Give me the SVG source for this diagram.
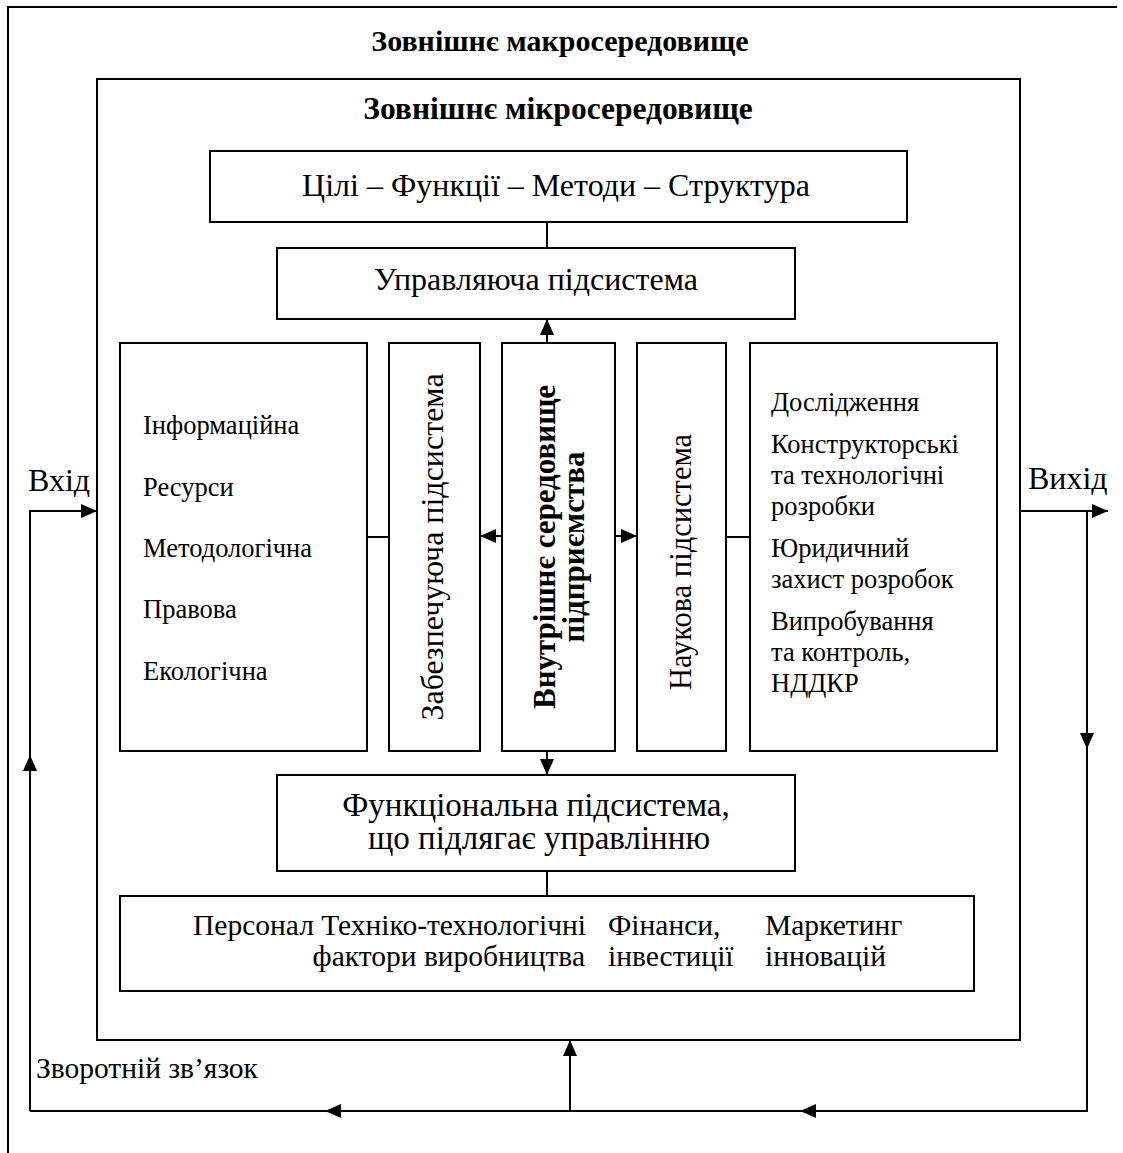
<svg xmlns="http://www.w3.org/2000/svg" width="1123" height="1153" viewBox="0 0 1123 1153">
<style>
.b{fill:none;stroke:#000;stroke-width:2}
.l{fill:none;stroke:#000;stroke-width:2}
text{font-family:"Liberation Serif","Times New Roman",serif;font-size:28px;fill:#000}
.c{text-anchor:middle}
.bold{font-weight:bold}
.big{font-size:32px}
.lst{font-size:26.5px}
.bot{font-size:29.5px}
</style>
<defs>
<marker id="ah" viewBox="0 0 16 16" refX="16" refY="8" markerWidth="16" markerHeight="16" markerUnits="userSpaceOnUse" orient="auto">
<path d="M0,1 L16,8 L0,15 Z" fill="#000"/>
</marker>
</defs>
<g id="outer">
<path class="b" d="M8,1153 V7 H1117"/>
<text class="c bold" x="560" y="51" style="font-size:30px">Зовнішнє макросередовище</text>
</g>
<g id="inner">
<rect class="b" x="97" y="79" width="923" height="961"/>
<text class="c bold" x="558" y="119" style="font-size:31.5px">Зовнішнє мікросередовище</text>
</g>
<g id="goals">
<rect class="b" x="210" y="151" width="697" height="71"/>
<text class="c big" x="556" y="196">Цілі – Функції – Методи – Структура</text>
</g>
<g id="control">
<rect class="b" x="277" y="248" width="518" height="71"/>
<text class="c big" x="536" y="290">Управляюча підсистема</text>
</g>
<g id="support-list">
<rect class="b" x="120" y="343" width="247" height="408"/>
<text class="lst" x="143" y="434">Інформаційна</text>
<text class="lst" x="143" y="496">Ресурси</text>
<text class="lst" x="143" y="557">Методологічна</text>
<text class="lst" x="143" y="618">Правова</text>
<text class="lst" x="143" y="680">Екологічна</text>
</g>
<g id="support">
<rect class="b" x="389" y="343" width="91" height="408"/>
<text class="c big" transform="translate(443,547) rotate(-90)">Забезпечуюча підсистема</text>
</g>
<g id="internal">
<rect class="b" x="502" y="343" width="113" height="408"/>
<text class="c bold" transform="translate(555,547) rotate(-90)" style="font-size:31px">Внутрішнє середовище</text>
<text class="c bold" transform="translate(584,547) rotate(-90)" style="font-size:31px">підприємства</text>
</g>
<g id="science">
<rect class="b" x="637" y="343" width="89" height="408"/>
<text class="c" transform="translate(691,562) rotate(-90)" style="font-size:30.5px">Наукова підсистема</text>
</g>
<g id="science-list">
<rect class="b" x="750" y="343" width="247" height="408"/>
<text class="lst" x="771" y="411">Дослідження</text>
<text class="lst" x="771" y="453">Конструкторські</text>
<text class="lst" x="771" y="484">та технологічні</text>
<text class="lst" x="771" y="515">розробки</text>
<text class="lst" x="771" y="557">Юридичний</text>
<text class="lst" x="771" y="588">захист розробок</text>
<text class="lst" x="771" y="630">Випробування</text>
<text class="lst" x="771" y="661">та контроль,</text>
<text class="lst" x="771" y="692">НДДКР</text>
</g>
<g id="functional">
<rect class="b" x="277" y="775" width="518" height="96"/>
<text class="c" x="536" y="816" style="font-size:33px">Функціональна підсистема,</text>
<text class="c" x="539" y="849" style="font-size:33px">що підлягає управлінню</text>
</g>
<g id="factors">
<rect class="b" x="120" y="896" width="854" height="95"/>
<text class="bot" x="193" y="935">Персонал Техніко-технологічні</text>
<text class="bot" x="585" y="966" text-anchor="end">фактори виробництва</text>
<text class="bot" x="608" y="935">Фінанси,</text>
<text class="bot" x="608" y="966">інвестиції</text>
<text class="bot" x="765" y="935">Маркетинг</text>
<text class="bot" x="765" y="966">інновацій</text>
</g>
<g id="labels">
<text class="big" x="28" y="491">Вхід</text>
<text class="big" x="1028" y="489">Вихід</text>
<text class="bot" x="36" y="1078">Зворотній зв’язок</text>
</g>
<g id="connectors">
<line class="l" x1="547" y1="222" x2="547" y2="248"/>
<line class="l" x1="547" y1="343" x2="547" y2="319" marker-end="url(#ah)"/>
<line class="l" x1="367" y1="537" x2="389" y2="537"/>
<line class="l" x1="502" y1="536" x2="480" y2="536" marker-end="url(#ah)"/>
<line class="l" x1="615" y1="536" x2="637" y2="536" marker-end="url(#ah)"/>
<line class="l" x1="726" y1="537" x2="750" y2="537"/>
<line class="l" x1="547" y1="751" x2="547" y2="775" marker-end="url(#ah)"/>
<line class="l" x1="547" y1="871" x2="547" y2="896"/>
<path class="l" d="M30,1111 V511 H97" marker-end="url(#ah)"/>
<line class="l" x1="30" y1="800" x2="30" y2="755" marker-end="url(#ah)"/>
<line class="l" x1="1020" y1="511" x2="1108" y2="511" marker-end="url(#ah)"/>
<path class="l" d="M1087,511 V1111 H30"/>
<line class="l" x1="1087" y1="700" x2="1087" y2="749" marker-end="url(#ah)"/>
<line class="l" x1="400" y1="1111" x2="325" y2="1111" marker-end="url(#ah)"/>
<line class="l" x1="880" y1="1111" x2="800" y2="1111" marker-end="url(#ah)"/>
<line class="l" x1="570" y1="1111" x2="570" y2="1040" marker-end="url(#ah)"/>
</g>
</svg>
